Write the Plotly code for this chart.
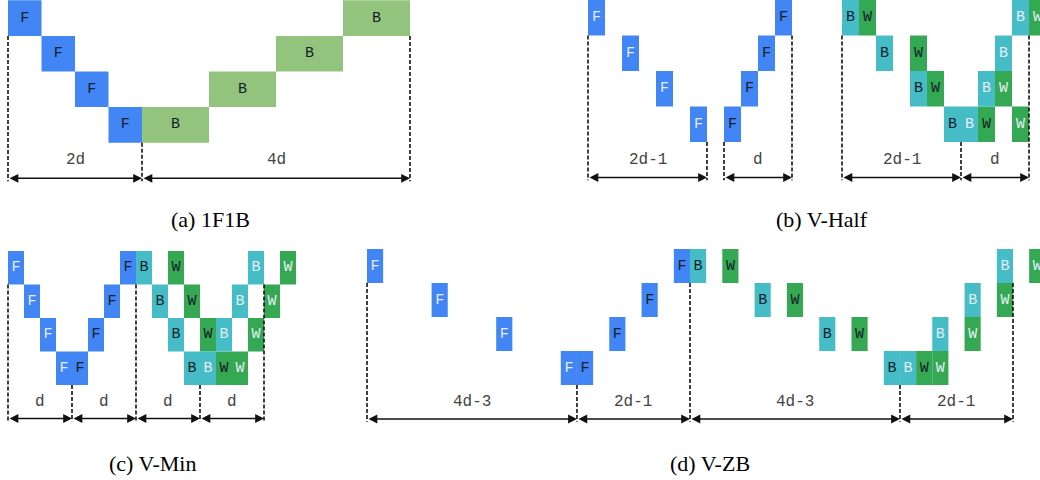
import plotly.graph_objects as go

W, H = 1040, 480

# ---------------- data ----------------
# (a) 1F1B
A_STAGE = [0, 1, 2, 3, 3, 2, 1, 0]
A_START = [0, 1, 2, 3, 4, 6, 8, 10]
A_DUR = [1, 1, 1, 1, 2, 2, 2, 2]
A_KIND = ["F", "F", "F", "F", "B", "B", "B", "B"]
A_CHUNK = [1, 1, 1, 1, 1, 1, 1, 1]
A_MARK_T = [0, 4, 12]
A_MARK_FROM = [1, 4, 1]
A_SPAN_START = [0, 4]
A_SPAN_END = [4, 12]
A_SPAN_LABEL = ["2d", "4d"]

# (b) V-Half, forward part
BF_STAGE = [0, 1, 2, 3, 3, 2, 1, 0]
BF_START = [0, 2, 4, 6, 8, 9, 10, 11]
BF_KIND = ["F", "F", "F", "F", "F", "F", "F", "F"]
BF_CHUNK = [0, 0, 0, 0, 1, 1, 1, 1]
BF_MARK_T = [0, 7, 8, 12]
BF_MARK_FROM = [1, 4, 4, 1]
BF_SPAN_START = [0, 8]
BF_SPAN_END = [7, 12]
BF_SPAN_LABEL = ["2d-1", "d"]

# (b) V-Half, backward part
BW_STAGE = [0, 0, 1, 1, 2, 2, 3, 3, 3, 3, 2, 2, 1, 0, 0]
BW_START = [0, 1, 2, 4, 4, 5, 6, 7, 8, 10, 8, 9, 9, 10, 11]
BW_KIND = ["B", "W", "B", "W", "B", "W", "B", "B", "W", "W", "B", "W", "B", "B", "W"]
BW_CHUNK = [1, 1, 1, 1, 1, 1, 1, 0, 1, 0, 0, 0, 0, 0, 0]
BW_MARK_T = [0, 7, 11]
BW_MARK_FROM = [1, 4, 1]
BW_SPAN_START = [0, 7]
BW_SPAN_END = [7, 11]
BW_SPAN_LABEL = ["2d-1", "d"]

# (c) V-Min
C_STAGE = [0, 1, 2, 3, 3, 2, 1, 0,
           0, 0, 1, 1, 2, 2, 3, 3, 3, 3, 2, 2, 1, 1, 0, 0]
C_START = [0, 1, 2, 3, 4, 5, 6, 7,
           8, 10, 9, 11, 10, 12, 11, 12, 13, 14, 13, 15, 14, 16, 15, 17]
C_KIND = ["F", "F", "F", "F", "F", "F", "F", "F",
          "B", "W", "B", "W", "B", "W", "B", "B", "W", "W", "B", "W", "B", "W", "B", "W"]
C_CHUNK = [0, 0, 0, 0, 1, 1, 1, 1,
           1, 1, 1, 1, 1, 1, 1, 0, 1, 0, 0, 0, 0, 0, 0, 0]
C_MARK_T = [0, 4, 8, 12, 16]
C_MARK_FROM = [1, 4, 1, 4, 1]
C_SPAN_START = [0, 4, 8, 12]
C_SPAN_END = [4, 8, 12, 16]
C_SPAN_LABEL = ["d", "d", "d", "d"]

# (d) V-ZB
D_STAGE = [0, 1, 2, 3, 3, 2, 1, 0,
           0, 0, 1, 1, 2, 2, 3, 3, 3, 3, 2, 2, 1, 1, 0, 0]
D_START = [0, 4, 8, 12, 13, 15, 17, 19,
           20, 22, 24, 26, 28, 30, 32, 33, 34, 35, 35, 37, 37, 39, 39, 41]
D_KIND = ["F", "F", "F", "F", "F", "F", "F", "F",
          "B", "W", "B", "W", "B", "W", "B", "B", "W", "W", "B", "W", "B", "W", "B", "W"]
D_CHUNK = [0, 0, 0, 0, 1, 1, 1, 1,
           1, 1, 1, 1, 1, 1, 1, 0, 1, 0, 0, 0, 0, 0, 0, 0]
D_MARK_T = [0, 13, 20, 33, 40]
D_MARK_FROM = [1, 4, 1, 4, 1]
D_SPAN_START = [0, 13, 20, 33]
D_SPAN_END = [13, 20, 33, 40]
D_SPAN_LABEL = ["4d-3", "2d-1", "4d-3", "2d-1"]

CAPTIONS = ["(a) 1F1B", "(b) V-Half", "(c) V-Min", "(d) V-ZB"]

# ---------------- style ----------------
COL_F = "#4285F4"
COL_B_1F1B = "#93C47D"
COL_B = "#46BDC6"
COL_W = "#34A853"
TXT_DARK = "#15202b"
TXT_LIGHT = "#e4edf5"
MONO = "Liberation Mono"

fig = go.Figure()


def xax(x0, ux, tmin, tmax):
    return dict(domain=[max(0.0, (x0 + ux * tmin) / W), min(1.0, (x0 + ux * tmax) / W)],
                range=[tmin, tmax], visible=False, fixedrange=True)


def yax(y0, uy, rmin, rmax):
    return dict(domain=[max(0.0, 1 - (y0 + uy * rmax) / H), min(1.0, 1 - (y0 + uy * rmin) / H)],
                range=[rmax, rmin], visible=False, fixedrange=True)


panels = [
    dict(stage=A_STAGE, start=A_START, dur=A_DUR, kind=A_KIND, chunk=A_CHUNK,
         marks=A_MARK_T, mfrom=A_MARK_FROM, s0=A_SPAN_START, s1=A_SPAN_END, sl=A_SPAN_LABEL,
         bcol=COL_B_1F1B, gx=(8, 33.5, -0.2, 12.3), gy=(0.3, 35.6, -0.008, 5.3)),
    dict(stage=BF_STAGE, start=BF_START, dur=None, kind=BF_KIND, chunk=BF_CHUNK,
         marks=BF_MARK_T, mfrom=BF_MARK_FROM, s0=BF_SPAN_START, s1=BF_SPAN_END, sl=BF_SPAN_LABEL,
         bcol=COL_B, gx=(588, 17, -0.3, 12.4), gy=(0.0, 35.5, 0.0, 5.3)),
    dict(stage=BW_STAGE, start=BW_START, dur=None, kind=BW_KIND, chunk=BW_CHUNK,
         marks=BW_MARK_T, mfrom=BW_MARK_FROM, s0=BW_SPAN_START, s1=BW_SPAN_END, sl=BW_SPAN_LABEL,
         bcol=COL_B, gx=(842, 17, -0.3, (W - 842) / 17), gy=(0.0, 35.5, 0.0, 5.3)),
    dict(stage=C_STAGE, start=C_START, dur=None, kind=C_KIND, chunk=C_CHUNK,
         marks=C_MARK_T, mfrom=C_MARK_FROM, s0=C_SPAN_START, s1=C_SPAN_END, sl=C_SPAN_LABEL,
         bcol=COL_B, gx=(8, 16, -0.3, 18.5), gy=(251, 33.5, -0.1, 5.3)),
    dict(stage=D_STAGE, start=D_START, dur=None, kind=D_KIND, chunk=D_CHUNK,
         marks=D_MARK_T, mfrom=D_MARK_FROM, s0=D_SPAN_START, s1=D_SPAN_END, sl=D_SPAN_LABEL,
         bcol=COL_B, gx=(367, 16.15, -0.3, (W - 367) / 16.15), gy=(249, 34, -0.1, 5.3)),
]

shapes = []
annotations = []
layout_axes = {}

for i, p in enumerate(panels):
    n = i + 1
    xname = "x" if n == 1 else f"x{n}"
    yname = "y" if n == 1 else f"y{n}"
    xa = xax(*p["gx"])
    ya = yax(*p["gy"])
    xa["anchor"] = yname
    ya["anchor"] = xname
    layout_axes["xaxis" if n == 1 else f"xaxis{n}"] = xa
    layout_axes["yaxis" if n == 1 else f"yaxis{n}"] = ya

    colmap = {"F": COL_F, "B": p["bcol"], "W": COL_W}
    dur = p["dur"] if p["dur"] is not None else [1] * len(p["start"])
    fig.add_trace(go.Bar(
        orientation="h",
        y=[s + 0.5 for s in p["stage"]],
        x=dur,
        base=p["start"],
        width=1,
        marker=dict(color=[colmap[k] for k in p["kind"]], line=dict(width=0)),
        text=p["kind"],
        textposition="inside",
        insidetextanchor="middle",
        textangle=0,
        textfont=dict(family=MONO, size=15,
                      color=[TXT_DARK if c == 1 else TXT_LIGHT for c in p["chunk"]]),
        cliponaxis=True,
        hoverinfo="skip",
        showlegend=False,
        xaxis=xname, yaxis=yname,
    ))

    for t, r in zip(p["marks"], p["mfrom"]):
        shapes.append(dict(type="line", xref=xname, yref=yname, x0=t, x1=t, y0=r, y1=5.08,
                           line=dict(color="#111111", width=1.6, dash="4px,2px"), layer="above"))
    for a, b, lab in zip(p["s0"], p["s1"], p["sl"]):
        annotations.append(dict(xref=xname, yref=yname, axref=xname, ayref=yname,
                                x=b, y=5.0, ax=a, ay=5.0, text="", showarrow=True,
                                arrowside="end+start", arrowhead=2, arrowsize=1.1,
                                arrowwidth=1.6, arrowcolor="#111111", standoff=0, startstandoff=0))
        annotations.append(dict(xref=xname, yref=yname, x=(a + b) / 2, y=4.5, text=lab,
                                showarrow=False, font=dict(family=MONO, size=16, color="#444444")))

cap_pos = [(210, 219), (822, 219), (152, 463), (710, 463)]
for txt, (cx, cy) in zip(CAPTIONS, cap_pos):
    annotations.append(dict(xref="paper", yref="paper", x=cx / W, y=1 - cy / H, text=txt,
                            showarrow=False, xanchor="center", yanchor="middle",
                            font=dict(family="Liberation Serif", size=22, color="#000000")))

fig.update_layout(
    width=W, height=H,
    margin=dict(l=0, r=0, t=0, b=0),
    paper_bgcolor="white", plot_bgcolor="rgba(0,0,0,0)",
    barmode="overlay",
    shapes=shapes, annotations=annotations,
    **layout_axes,
)

fig.write_html("out.html", config={"displayModeBar": False},
               post_script="document.body.style.margin='0';")
